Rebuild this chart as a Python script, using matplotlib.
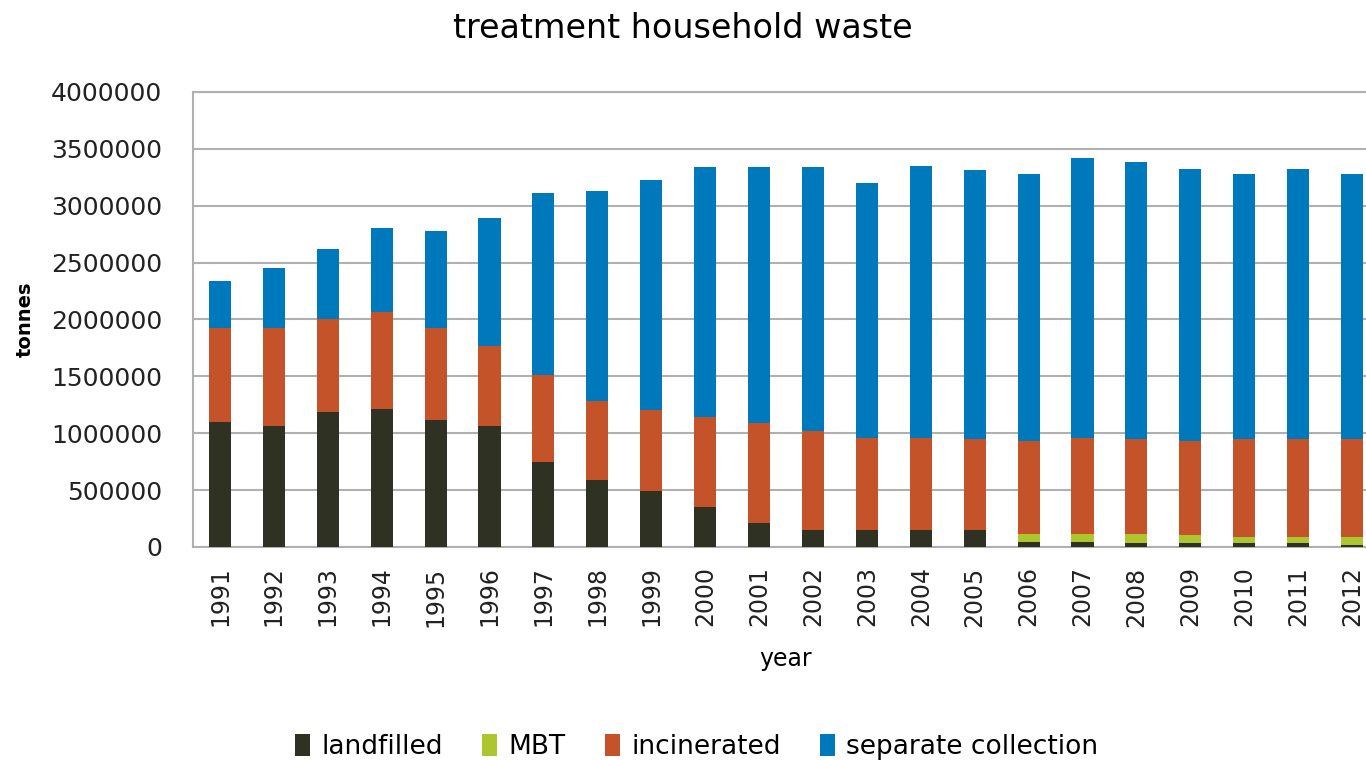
import numpy as np
import matplotlib
matplotlib.use("Agg")
import matplotlib.pyplot as plt

years = list(range(1991, 2013))

landfilled = [1100000, 1060000, 1185000, 1210000, 1115000, 1065000, 750000, 585000,
              495000, 355000, 215000, 145000, 145000, 145000, 145000, 45000,
              45000, 35000, 35000, 35000, 35000, 18000]
mbt = [0, 0, 0, 0, 0, 0, 0, 0, 0, 0, 0, 0, 0, 0, 0,
       70000, 70000, 80000, 70000, 53000, 53000, 70000]
incinerated = [823000, 863000, 820000, 855000, 808000, 698000, 759000, 699000,
               709000, 788000, 875000, 875000, 816000, 816000, 804000, 817000,
               847000, 835000, 827000, 862000, 862000, 862000]
separate = [411000, 527000, 615000, 735000, 857000, 1127000, 1601000, 1848000,
            2018000, 2195000, 2248000, 2318000, 2243000, 2386000, 2362000, 2343000,
            2457000, 2433000, 2388000, 2325000, 2370000, 2325000]

series = [
    ("landfilled", landfilled, "#2f3123"),
    ("MBT", mbt, "#adc52e"),
    ("incinerated", incinerated, "#c5532a"),
    ("separate collection", separate, "#0079bc"),
]

plt.rcParams["font.family"] = "DejaVu Sans"

fig = plt.figure(figsize=(13.66, 7.6), dpi=100)
# plot area runs a little past the right edge of the picture, as in the source
ax = fig.add_axes([0.1413, 0.2803, 0.8682, 0.5987])

x = np.arange(len(years))
bottom = np.zeros(len(years))
for name, vals, col in series:
    ax.bar(x, vals, width=0.41, bottom=bottom, color=col, label=name, zorder=3)
    bottom += np.array(vals)

ax.set_xlim(-0.5, len(years) - 0.5)
ax.set_ylim(0, 4000000)
ax.set_yticks(np.arange(0, 4000001, 500000))
ax.set_yticklabels([str(v) for v in range(0, 4000001, 500000)], fontsize=18, color="#222222")
ax.set_xticks(x)
ax.set_xticklabels([str(y) for y in years], rotation=90, fontsize=17, color="#222222")
ax.tick_params(axis="x", length=0, pad=14)
ax.tick_params(axis="y", length=0, pad=22)

ax.grid(axis="y", color="#b0b0b0", linewidth=1.5, zorder=0)
for side in ["left", "top", "bottom"]:
    ax.spines[side].set_color("#b0b0b0")
    ax.spines[side].set_linewidth(1.5)
ax.spines["right"].set_visible(False)

ax.set_xlabel("year", fontsize=17, labelpad=15)
ax.set_ylabel("tonnes", fontsize=14, fontweight="bold", labelpad=12)
fig.text(0.5, 0.963, "treatment household waste", fontsize=24, ha="center", va="center")

fig.legend(loc="center", bbox_to_anchor=(0.51, 0.017), ncol=4, frameon=False,
           fontsize=19, handlelength=0.57, handleheight=0.9, handletextpad=0.42,
           columnspacing=1.5)

fig.savefig("out.png", dpi=100)
